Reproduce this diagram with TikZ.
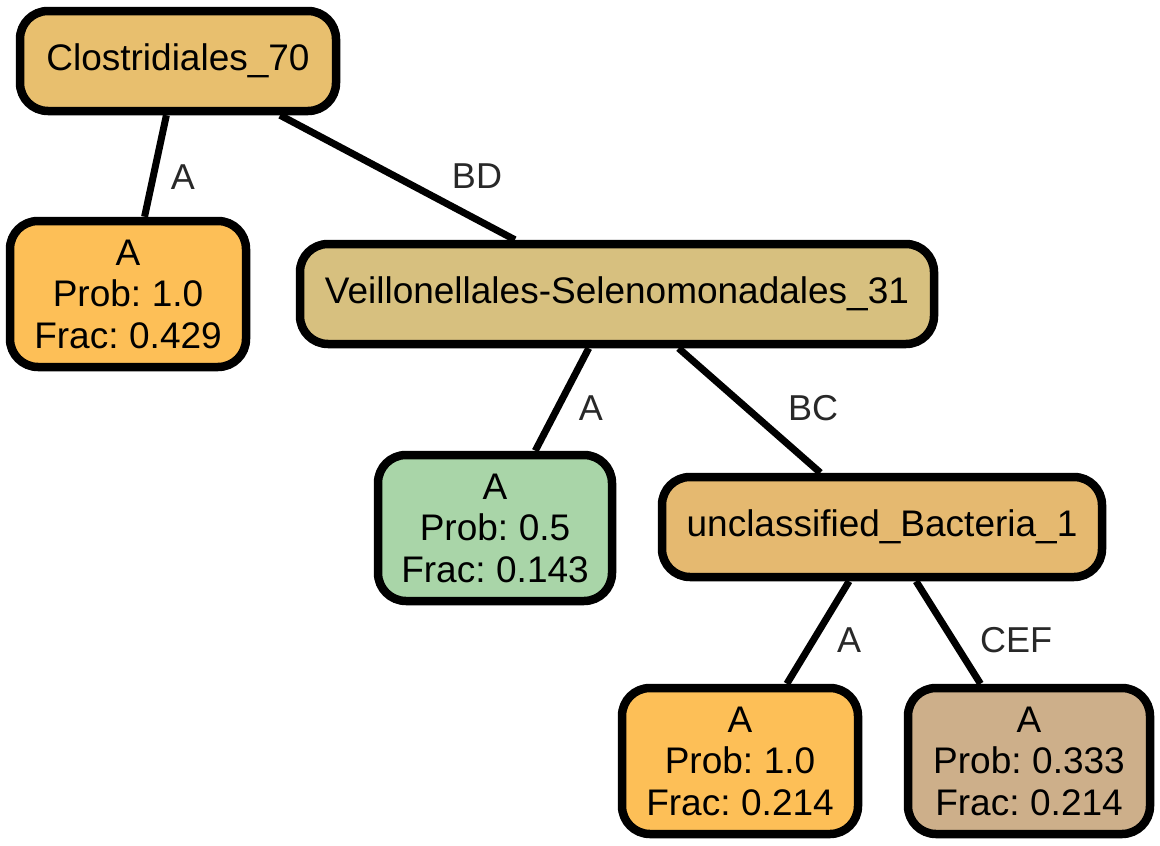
\documentclass[tikz,border=0pt]{standalone}
\usepackage{fontspec}
\setmainfont{Liberation Sans}[WordSpace=0.7]
\definecolor{cClos}{RGB}{232,191,110}
\definecolor{cLeafO}{RGB}{253,191,87}
\definecolor{cVeil}{RGB}{215,192,127}
\definecolor{cGreen}{RGB}{169,213,168}
\definecolor{cUncl}{RGB}{229,185,112}
\definecolor{cTan}{RGB}{205,175,138}
\definecolor{cLbl}{RGB}{40,40,40}
\tikzset{
  box/.style={draw=black, line width=8.5pt, rounded corners=28pt, inner sep=0pt,
    align=center, font=\fontsize{37}{41.5}\selectfont, minimum height=100pt},
  leaf/.style={box, minimum height=146pt},
  edge/.style={draw=black, line width=7pt},
  lbl/.style={text=cLbl, font=\fontsize{36}{40}\selectfont, inner sep=0pt}
}
\begin{document}
\begin{tikzpicture}[x=1pt,y=-1pt]
\useasboundingbox (0,0) rectangle (1160,846);
\node[box, fill=cClos, minimum width=316pt] (clos) at (178,61) {Clostridiales\_70};
\node[leaf, fill=cLeafO, minimum width=236pt] (l1) at (128,294) {A\\Prob: 1.0\\Frac: 0.429};
\node[box, fill=cVeil, minimum width=634pt] (veil) at (617,294) {Veillonellales-Selenomonadales\_31};
\node[leaf, fill=cGreen, minimum width=234pt] (l2) at (495,528) {A\\Prob: 0.5\\Frac: 0.143};
\node[box, fill=cUncl, minimum width=440pt] (uncl) at (882,527) {unclassified\_Bacteria\_1};
\node[leaf, fill=cLeafO, minimum width=236pt] (l3) at (740,761) {A\\Prob: 1.0\\Frac: 0.214};
\node[leaf, fill=cTan, minimum width=242pt] (l4) at (1029,761) {A\\Prob: 0.333\\Frac: 0.214};
\draw[edge] (clos) -- (l1);
\draw[edge] (clos) -- (veil);
\draw[edge] (veil) -- (l2);
\draw[edge] (veil) -- (uncl);
\draw[edge] (uncl) -- (l3);
\draw[edge] (uncl) -- (l4);
\node[lbl] (e1) at (183,177) {A};
\node[lbl] (e2) at (477,176) {BD};
\node[lbl] (e3) at (591,408) {A};
\node[lbl] (e4) at (813,408) {BC};
\node[lbl] (e5) at (849,640) {A};
\node[lbl] (e6) at (1016,640) {CEF};
\end{tikzpicture}
\end{document}
